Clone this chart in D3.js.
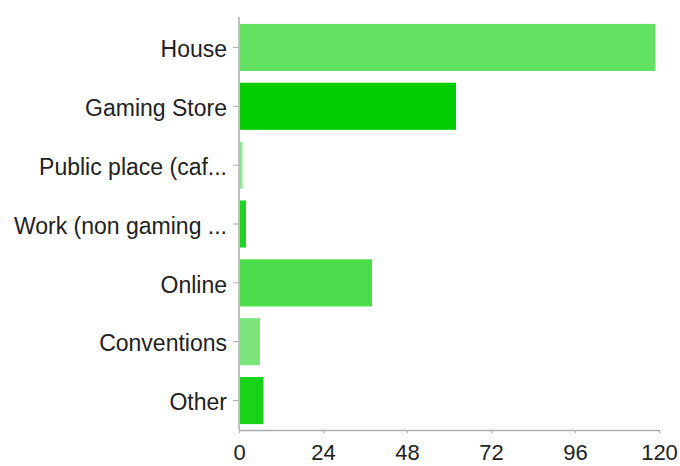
<!DOCTYPE html>
<html>
<head>
<meta charset="utf-8">
<script src="https://cdn.jsdelivr.net/npm/d3@7"></script>
<style>
  body { margin: 0; background: #fff; }
  text { font-family: "Liberation Sans", Arial, sans-serif; }
</style>
</head>
<body>
<div id="chart"></div>
<script>
const categories = ['House', 'Gaming Store', 'Public place (caf...', 'Work (non gaming ...', 'Online', 'Conventions', 'Other']
const counts = [119, 62, 1, 2, 38, 6, 7]
const barColors = ['#62e062', '#00cc00', '#8fe88f', '#22d022', '#4adc4a', '#7ae47a', '#18d418']
const xTicks = [0, 24, 48, 72, 96, 120]

const width = 680
const height = 466
const PADDING = {top: 18, right: 21, bottom: 36, left: 239}
const LABEL_SIZE = 23
const TICK_SIZE = 22

const svg = d3.select('#chart').append('svg')
  .attr('width', width).attr('height', height)

const x = d3.scaleLinear().domain([0, 120]).range([PADDING.left, width - PADDING.right])
const y = d3.scaleBand().domain(categories)
  .range([PADDING.top, height - PADDING.bottom])
  .paddingInner(0.2).paddingOuter(0.1)

svg.selectAll('rect.bar')
  .data(categories)
  .enter()
  .append('rect')
  .classed('bar', true)
  .attr('x', x(0) + 1)
  .attr('y', d => y(d))
  .attr('height', y.bandwidth())
  .attr('width', (d, i) => x(counts[i]) - x(0) - 1)
  .attr('fill', (d, i) => barColors[i])

const xAxis = svg.append('g')
  .attr('transform', `translate(0, ${height - PADDING.bottom})`)
  .call(d3.axisBottom(x).tickValues(xTicks).tickSize(3).tickPadding(11).tickSizeOuter(0))

const yAxis = svg.append('g')
  .attr('transform', `translate(${PADDING.left}, 0)`)
  .call(d3.axisLeft(y).tickSize(6).tickPadding(6).tickSizeOuter(0))

yAxis.select('.domain').attr('d', `M0,${PADDING.top - 1}V${height - PADDING.bottom}`)

;[xAxis, yAxis].forEach(g => {
  g.select('.domain').attr('stroke', '#aaa').attr('stroke-width', 1.5)
  g.selectAll('.tick line').attr('stroke', '#aaa')
  g.selectAll('.tick text')
    .attr('font-family', '"Liberation Sans", Arial, sans-serif')
    .attr('fill', '#222')
})
xAxis.selectAll('.tick text').attr('font-size', TICK_SIZE)
yAxis.selectAll('.tick text').attr('font-size', LABEL_SIZE).attr('dy', '0.42em')
</script>
</body>
</html>
